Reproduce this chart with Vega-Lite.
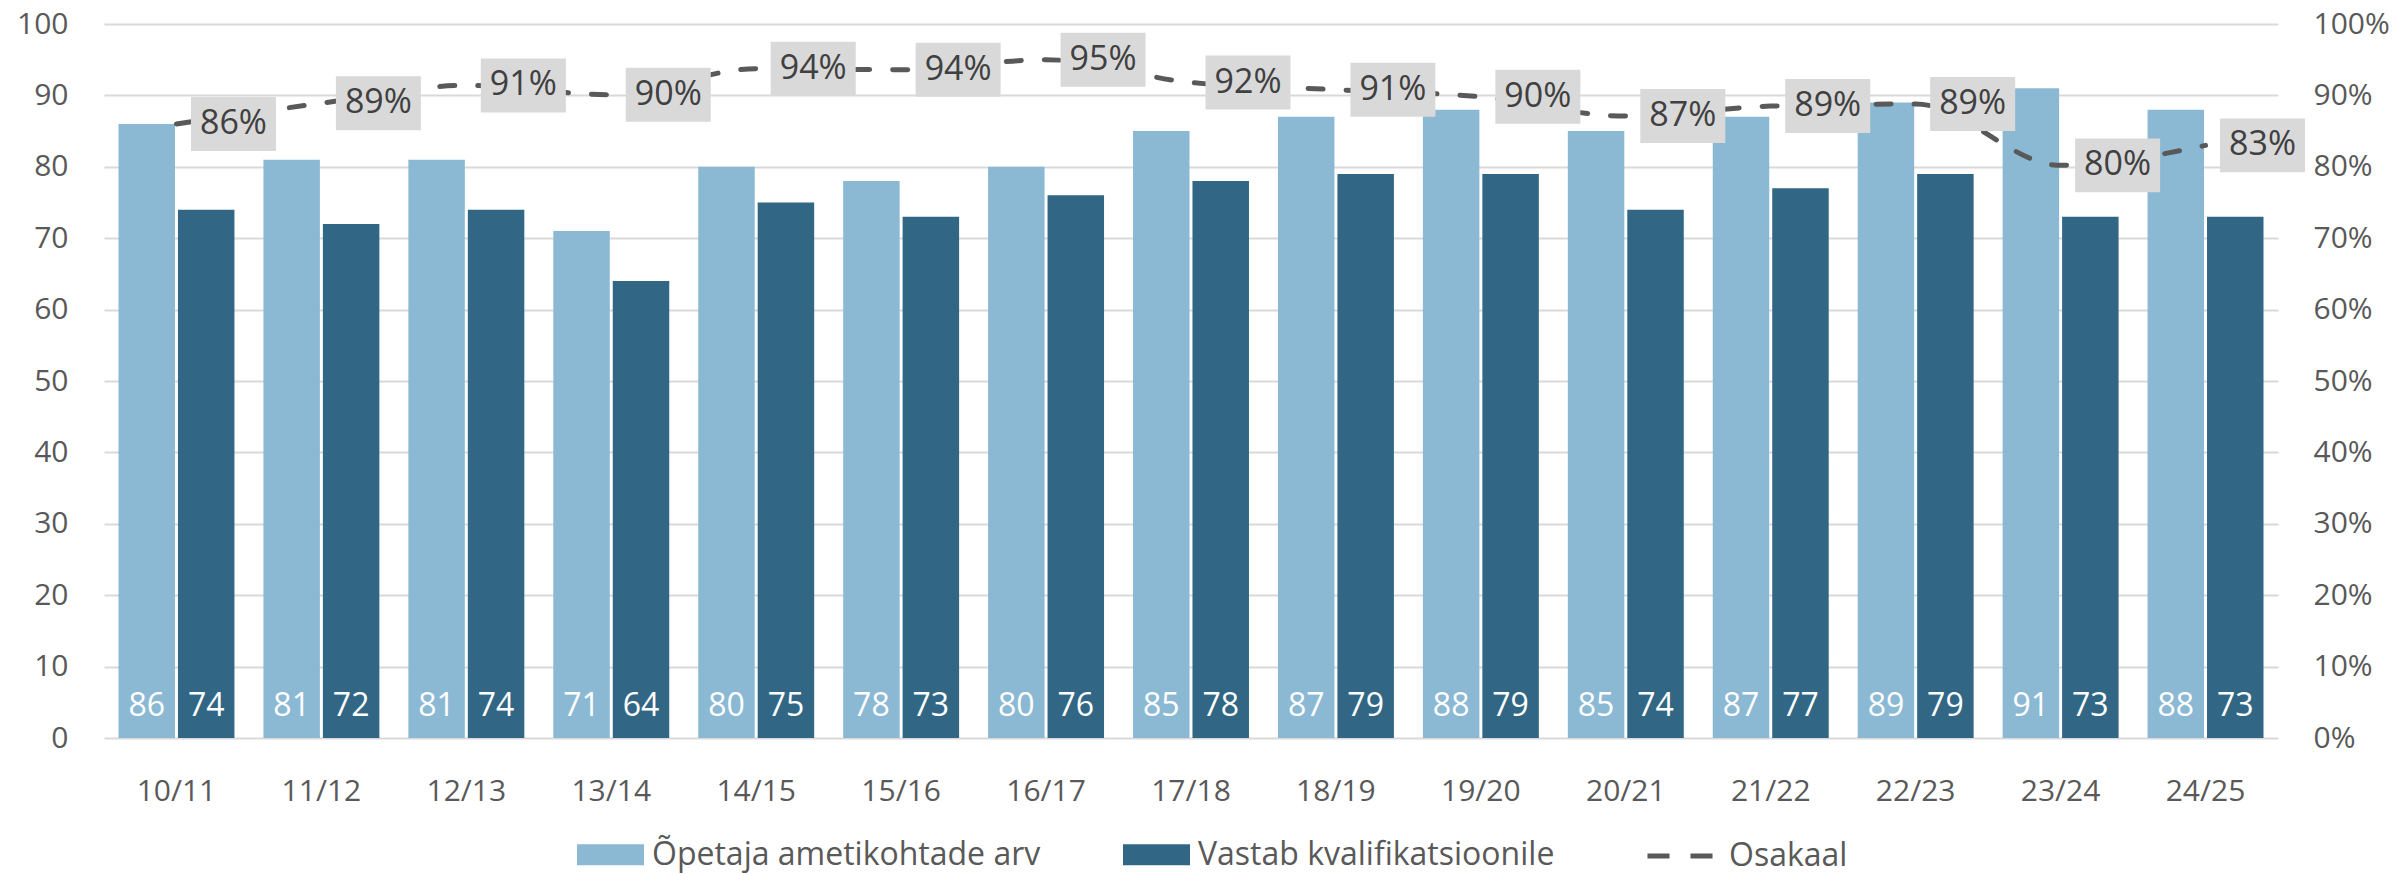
{
  "$schema": "https://vega.github.io/schema/vega-lite/v6.json",
  "width": 2174,
  "height": 714,
  "autosize": {"type": "none"},
  "padding": {"left": 104, "top": 24, "right": 127, "bottom": 136},
  "background": "white",
  "config": {"view": {"stroke": null}, "font": "Open Sans"},
  "data": {
    "values": [
      {"year": "10/11", "Õpetaja ametikohtade  arv": 86, "Vastab kvalifikatsioonile": 74, "pct": 0.860},
      {"year": "11/12", "Õpetaja ametikohtade  arv": 81, "Vastab kvalifikatsioonile": 72, "pct": 0.889},
      {"year": "12/13", "Õpetaja ametikohtade  arv": 81, "Vastab kvalifikatsioonile": 74, "pct": 0.914},
      {"year": "13/14", "Õpetaja ametikohtade  arv": 71, "Vastab kvalifikatsioonile": 64, "pct": 0.901},
      {"year": "14/15", "Õpetaja ametikohtade  arv": 80, "Vastab kvalifikatsioonile": 75, "pct": 0.9375},
      {"year": "15/16", "Õpetaja ametikohtade  arv": 78, "Vastab kvalifikatsioonile": 73, "pct": 0.936},
      {"year": "16/17", "Õpetaja ametikohtade  arv": 80, "Vastab kvalifikatsioonile": 76, "pct": 0.950},
      {"year": "17/18", "Õpetaja ametikohtade  arv": 85, "Vastab kvalifikatsioonile": 78, "pct": 0.918},
      {"year": "18/19", "Õpetaja ametikohtade  arv": 87, "Vastab kvalifikatsioonile": 79, "pct": 0.908},
      {"year": "19/20", "Õpetaja ametikohtade  arv": 88, "Vastab kvalifikatsioonile": 79, "pct": 0.898},
      {"year": "20/21", "Õpetaja ametikohtade  arv": 85, "Vastab kvalifikatsioonile": 74, "pct": 0.871},
      {"year": "21/22", "Õpetaja ametikohtade  arv": 87, "Vastab kvalifikatsioonile": 77, "pct": 0.885},
      {"year": "22/23", "Õpetaja ametikohtade  arv": 89, "Vastab kvalifikatsioonile": 79, "pct": 0.888},
      {"year": "23/24", "Õpetaja ametikohtade  arv": 91, "Vastab kvalifikatsioonile": 73, "pct": 0.802},
      {"year": "24/25", "Õpetaja ametikohtade  arv": 88, "Vastab kvalifikatsioonile": 73, "pct": 0.830}
    ]
  },
  "encoding": {
    "x": {
      "field": "year", "type": "nominal", "sort": null,
      "scale": {"paddingInner": 0.2, "paddingOuter": 0.1},
      "axis": {"title": null, "labelAngle": 0, "ticks": false, "domain": false, "grid": false,
               "labelFontSize": 30, "labelColor": "#595959", "labelPadding": 38}
    }
  },
  "layer": [
    {
      "transform": [{"fold": ["Õpetaja ametikohtade  arv", "Vastab kvalifikatsioonile"], "as": ["series", "value"]}],
      "encoding": {
        "y": {
          "field": "value", "type": "quantitative",
          "scale": {"domain": [0, 100], "nice": false},
          "axis": {"title": null, "values": [0, 10, 20, 30, 40, 50, 60, 70, 80, 90, 100], "ticks": false, "domain": false,
                   "grid": true, "gridColor": "#d9d9d9", "gridWidth": 2,
                   "labelFontSize": 30, "labelColor": "#595959", "labelPadding": 36}
        },
        "xOffset": {
          "field": "series", "type": "nominal",
          "sort": ["Õpetaja ametikohtade  arv", "Vastab kvalifikatsioonile"],
          "scale": {"paddingInner": 0.05, "paddingOuter": 0}
        }
      },
      "layer": [
        {
          "mark": {"type": "bar"},
          "encoding": {
            "color": {
              "field": "series", "type": "nominal",
              "scale": {"domain": ["Õpetaja ametikohtade  arv", "Vastab kvalifikatsioonile"], "range": ["#8bb9d4", "#316785"]},
              "legend": {
                "title": null, "orient": "none", "legendX": 473, "legendY": 797,
                "direction": "horizontal", "columns": 2, "columnPadding": 74,
                "symbolType": "M-1,-0.3134H1V0.3134H-1Z", "symbolSize": 4489, "symbolStrokeWidth": 0, "symbolOpacity": 1,
                "labelFontSize": 32, "labelColor": "#595959", "labelLimit": 700, "labelOffset": 8
              }
            }
          }
        },
        {
          "mark": {"type": "text", "color": "white", "fontSize": 32, "baseline": "alphabetic", "dy": -22},
          "encoding": {
            "y": {"datum": 0, "type": "quantitative"},
            "text": {"field": "value", "type": "quantitative"}
          }
        }
      ]
    },
    {
      "encoding": {
        "y": {
          "field": "pct", "type": "quantitative",
          "scale": {"domain": [0, 1], "nice": false},
          "axis": {"orient": "right", "title": null, "format": ".0%",
                   "values": [0, 0.1, 0.2, 0.3, 0.4, 0.5, 0.6, 0.7, 0.8, 0.9, 1],
                   "ticks": false, "domain": false, "grid": false,
                   "labelFontSize": 30, "labelColor": "#595959", "labelPadding": 35}
        }
      },
      "layer": [
        {
          "mark": {"type": "line", "strokeWidth": 5, "strokeDash": [15, 23], "strokeCap": "round", "interpolate": "monotone"},
          "encoding": {
            "stroke": {
              "datum": "Osakaal",
              "scale": {"range": ["#595959"]},
              "legend": {
                "title": null, "orient": "none", "legendX": 1541, "legendY": 797,
                "symbolType": "stroke", "symbolSize": 4225, "symbolStrokeWidth": 5, "symbolDash": [22, 21],
                "labelFontSize": 32, "labelColor": "#595959", "labelLimit": 400, "labelOffset": 14
              }
            }
          }
        },
        {
          "mark": {"type": "point", "shape": "M-1,-0.635H1V0.635H-1Z", "size": 7225, "filled": true,
                   "fill": "#d9d9d9", "opacity": 1, "strokeWidth": 0, "xOffset": 57}
        },
        {
          "mark": {"type": "text", "fontSize": 34, "color": "#404040", "xOffset": 57, "baseline": "middle"},
          "encoding": {"text": {"field": "pct", "type": "quantitative", "format": ".0%"}}
        }
      ]
    }
  ],
  "resolve": {"scale": {"y": "independent"}}
}
